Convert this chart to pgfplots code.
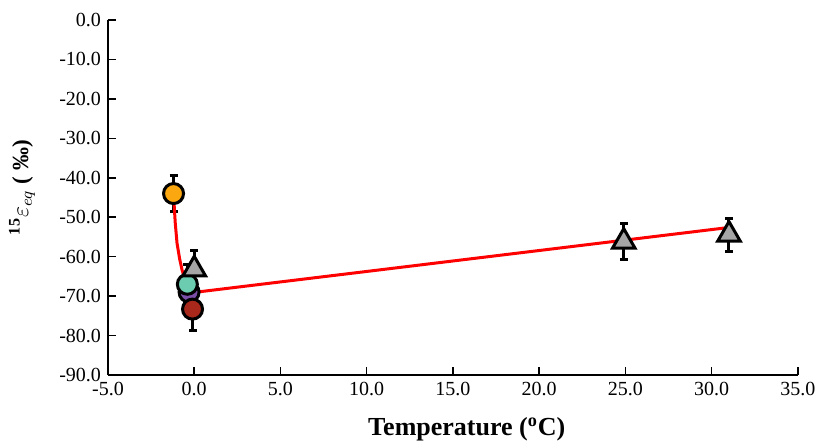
\documentclass[border=0pt]{standalone}
\usepackage{fontspec}
\setmainfont{Liberation Serif}
\usepackage{pgfplots}
\pgfplotsset{compat=1.18}
\definecolor{cOrange}{HTML}{FBA70F}
\definecolor{cTeal}{HTML}{6CCCB0}
\definecolor{cPurple}{HTML}{7B4FA8}
\definecolor{cBrown}{HTML}{A8281C}
\definecolor{cGray}{HTML}{A6A6A6}
\pgfplotsset{
    ebar/.style={
        only marks,
        error bars/y dir=both,
        error bars/y explicit,
        error bars/error bar style={black, line width=1.5pt},
        error bars/error mark options={rotate=90, mark size=2pt, line width=1.5pt, black},
    },
}
\begin{document}
\begin{tikzpicture}[font=\fontsize{10}{12}\selectfont]
\useasboundingbox (-54pt,-33.5pt) rectangle (354pt,187.5pt);
\begin{axis}[
    scale only axis,
    width=345pt, height=177.5pt,
    xmin=-5, xmax=35, ymin=-90, ymax=0,
    axis lines=left,
    axis line style={-, line width=0.75pt},
    tick align=inside,
    major tick length=4pt,
    tick style={black, line width=0.75pt},
    xtick={-5,0,...,35},
    xticklabels={-5.0,0.0,5.0,10.0,15.0,20.0,25.0,30.0,35.0},
    ytick={-90,-80,...,0},
    yticklabels={-90.0,-80.0,-70.0,-60.0,-50.0,-40.0,-30.0,-20.0,-10.0,0.0},
    xlabel={\textbf{Temperature (\textsuperscript{o}C)}},
    ylabel={\textbf{\textsuperscript{15}}$\varepsilon_{eq}$\textbf{ ( ‰)}},
    xlabel style={font=\fontsize{13}{15}\selectfont, at={(axis description cs:0.52,0)}, anchor=north, inner sep=0pt, yshift=-21pt},
    ylabel style={font=\fontsize{11.5}{13}\selectfont, at={(axis description cs:0,0.528)}, anchor=south, yshift=33pt},
    clip=false,
]
% purple circle
\addplot[ebar, mark=*, mark size=5pt, mark options={fill=cPurple, draw=black, line width=1.5pt}]
    coordinates {(-0.3,-69) +- (0,5)};
% brown circle
\addplot[ebar, mark=*, mark size=5pt, mark options={fill=cBrown, draw=black, line width=1.5pt}]
    coordinates {(-0.1,-73.3) +- (0,5.5)};
% teal circle
\addplot[ebar, mark=*, mark size=5pt, mark options={fill=cTeal, draw=black, line width=1.5pt}]
    coordinates {(-0.4,-67) +- (0,5)};
% gray triangles
\addplot[ebar, mark=triangle*, mark size=6.5pt, mark options={fill=cGray, draw=black, line width=1.5pt}]
    coordinates {(0.0,-63.2) +- (0,4.8) (24.9,-56.2) +- (0,4.5) (31.0,-54.4) +- (0,4.2)};
% orange circle
\addplot[ebar, mark=*, mark size=5pt, mark options={fill=cOrange, draw=black, line width=1.5pt}]
    coordinates {(-1.2,-44) +- (0,4.6)};
% fitted curve
\addplot[red, line width=1.5pt, no marks] coordinates {
    (-1.2,-44) (-1.15,-48) (-1.1,-51.5) (-1.0,-56.5) (-0.85,-60.5)
    (-0.7,-63.5) (-0.5,-66.2) (-0.3,-67.6) (0,-68.5) (0.3,-68.9) (31,-52.6)
};
\end{axis}
\end{tikzpicture}
\end{document}
